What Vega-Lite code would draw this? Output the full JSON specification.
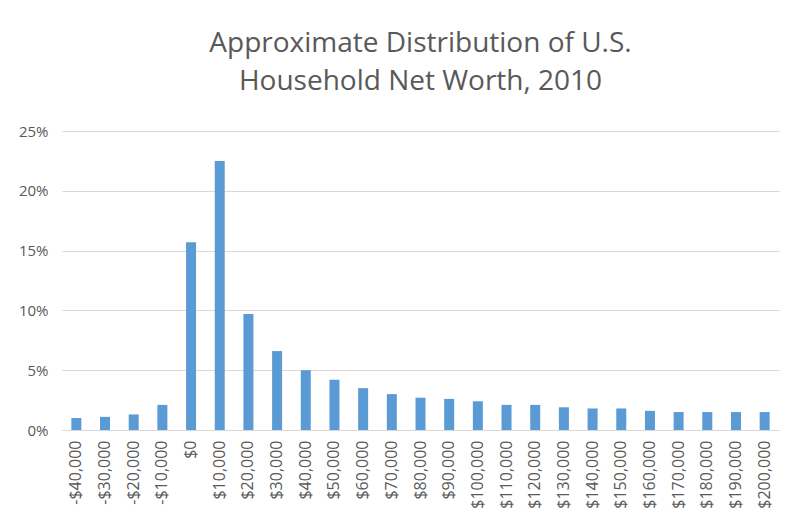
{
  "$schema": "https://vega.github.io/schema/vega-lite/v6.json",
  "width": 805,
  "height": 521,
  "autosize": {"type": "fit", "contains": "padding"},
  "padding": {"left": 18, "right": 26, "top": 30, "bottom": 12},
  "background": "white",
  "title": {
    "text": ["Approximate Distribution of U.S.", "Household Net Worth, 2010"],
    "fontSize": 28,
    "font": "Open Sans",
    "fontWeight": "normal",
    "color": "#595959",
    "lineHeight": 38,
    "offset": 28
  },
  "data": {
    "values": [
      {"bin": "-$40,000", "share": 0.010},
      {"bin": "-$30,000", "share": 0.011},
      {"bin": "-$20,000", "share": 0.013},
      {"bin": "-$10,000", "share": 0.021},
      {"bin": "$0", "share": 0.157},
      {"bin": "$10,000", "share": 0.225},
      {"bin": "$20,000", "share": 0.097},
      {"bin": "$30,000", "share": 0.066},
      {"bin": "$40,000", "share": 0.050},
      {"bin": "$50,000", "share": 0.042},
      {"bin": "$60,000", "share": 0.035},
      {"bin": "$70,000", "share": 0.030},
      {"bin": "$80,000", "share": 0.027},
      {"bin": "$90,000", "share": 0.026},
      {"bin": "$100,000", "share": 0.024},
      {"bin": "$110,000", "share": 0.021},
      {"bin": "$120,000", "share": 0.021},
      {"bin": "$130,000", "share": 0.019},
      {"bin": "$140,000", "share": 0.018},
      {"bin": "$150,000", "share": 0.018},
      {"bin": "$160,000", "share": 0.016},
      {"bin": "$170,000", "share": 0.015},
      {"bin": "$180,000", "share": 0.015},
      {"bin": "$190,000", "share": 0.015},
      {"bin": "$200,000", "share": 0.015}
    ]
  },
  "mark": {"type": "bar", "color": "#5B9BD5", "width": 10},
  "encoding": {
    "x": {
      "field": "bin",
      "type": "ordinal",
      "sort": null,
      "title": null,
      "scale": {"paddingInner": 0, "paddingOuter": 0},
      "axis": {
        "labelAngle": -90,
        "labelFontSize": 16,
        "labelFont": "Open Sans",
        "labelColor": "#595959",
        "domainColor": "#d9d9d9",
        "ticks": false,
        "labelPadding": 10
      }
    },
    "y": {
      "field": "share",
      "type": "quantitative",
      "title": null,
      "scale": {"domain": [0, 0.25]},
      "axis": {
        "format": ".0%",
        "values": [0, 0.05, 0.1, 0.15, 0.2, 0.25],
        "labelFontSize": 15,
        "labelFont": "Open Sans",
        "labelColor": "#595959",
        "gridColor": "#d9d9d9",
        "domain": false,
        "ticks": false,
        "labelPadding": 14
      }
    }
  },
  "config": {"view": {"stroke": null}}
}
